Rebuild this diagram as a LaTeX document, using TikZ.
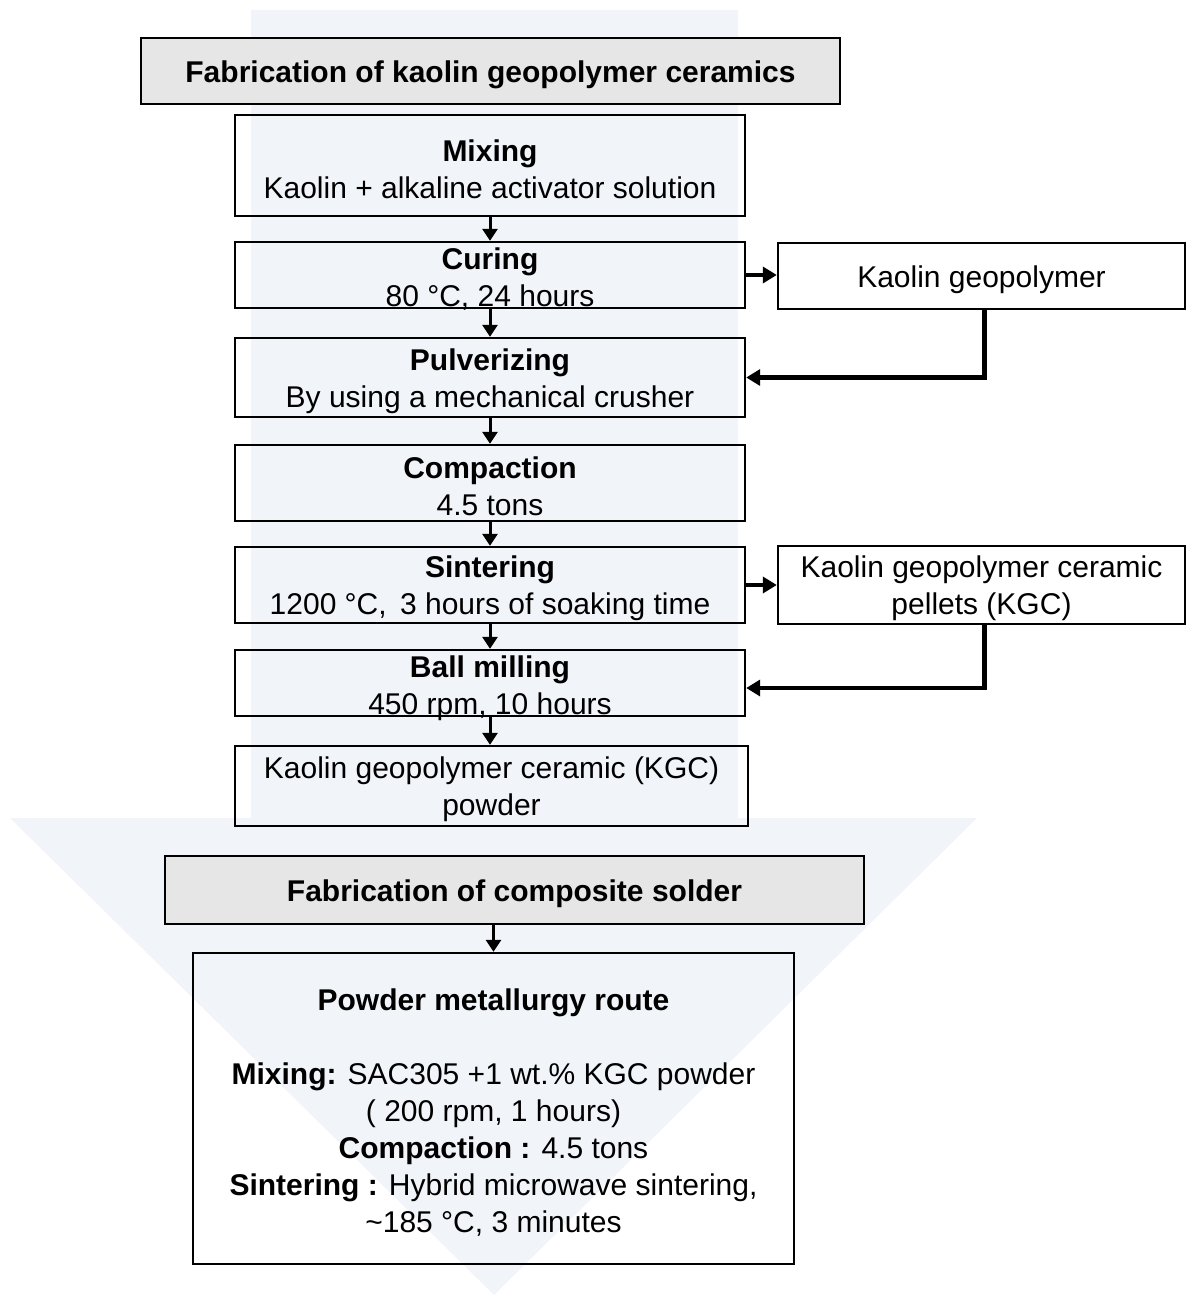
\documentclass[tikz,border=0pt]{standalone}
\usepackage{fontspec}
\setmainfont{Liberation Sans}
\usetikzlibrary{arrows.meta}
\definecolor{bgblue}{HTML}{F1F4F9}
\definecolor{hdrgray}{HTML}{E6E6E6}
\newcommand\tstrut{\rule{0pt}{29pt}}
\newcommand\sstrut{\rule{0pt}{26pt}}
\begin{document}
\begin{tikzpicture}[x=1pt,y=-1pt,
  box/.style={draw=black, line width=2.4pt, align=center, inner sep=0pt,
    font=\fontsize{30}{37}\selectfont},
  hdr/.style={box, fill=hdrgray, font=\fontsize{30}{37}\selectfont\bfseries},
  link/.style={line width=3pt, -{Triangle[length=12pt,width=15pt]}},
  side/.style={line width=4.5pt, -{Triangle[length=14pt,width=16pt]}}]
\useasboundingbox (0,0) rectangle (1186,1295);
% background arrow
\fill[bgblue] (251,10) -- (738,10) -- (738,818) -- (977,818) -- (494,1295)
  -- (10,818) -- (251,818) -- cycle;
% headers
\node[hdr, minimum width=699pt, minimum height=66pt] (t1) at (490.5,71)
  {\tstrut Fabrication of kaolin geopolymer ceramics};
\node[hdr, minimum width=699pt, minimum height=68pt] (t2) at (514.5,890)
  {\tstrut Fabrication of composite solder};
% process steps
\node[box, minimum width=510pt, minimum height=101pt] (mix) at (490,165.5)
  {\tstrut\textbf{Mixing}\\Kaolin + alkaline activator solution};
\node[box, minimum width=510pt, minimum height=66pt, text depth=0pt] (cur) at (490,275)
  {\sstrut\textbf{Curing}\\80 °C, 24 hours};
\node[box, minimum width=510pt, minimum height=79pt] (pul) at (490,377.5)
  {\tstrut\textbf{Pulverizing}\\By using a mechanical crusher};
\node[box, minimum width=510pt, minimum height=76pt] (com) at (490,483)
  {\tstrut\textbf{Compaction}\\4.5 tons};
\node[box, minimum width=510pt, minimum height=76pt] (sin) at (490,585)
  {\tstrut\textbf{Sintering}\\1200 °C,\, 3 hours of soaking time};
\node[box, minimum width=510pt, minimum height=66pt, text depth=0pt] (bal) at (490,683)
  {\sstrut\textbf{Ball milling}\\450 rpm, 10 hours};
\node[box, minimum width=513pt, minimum height=80pt] (pow) at (491.5,786)
  {\tstrut Kaolin geopolymer ceramic (KGC)\\powder};
% side products
\node[box, minimum width=407pt, minimum height=66pt] (kg) at (981.5,276)
  {\tstrut Kaolin geopolymer};
\node[box, minimum width=407pt, minimum height=78pt] (kgc) at (981.5,585)
  {\tstrut Kaolin geopolymer ceramic\\pellets (KGC)};
% bottom box
\node[box, minimum width=601pt, minimum height=311pt] (pm) at (493.5,1108.5)
  {\tstrut\textbf{Powder metallurgy route}\\[37pt]
   \textbf{Mixing:} SAC305 +1 wt.\% KGC powder\\
   ( 200 rpm, 1 hours)\\
   \textbf{Compaction :} 4.5 tons\\
   \textbf{Sintering :} Hybrid microwave sintering,\\
   \textasciitilde185 °C, 3 minutes};
% vertical connectors
\draw[link] (mix.south) -- (cur.north);
\draw[link] (cur.south) -- (pul.north);
\draw[link] (pul.south) -- (com.north);
\draw[link] (com.south) -- (sin.north);
\draw[link] (sin.south) -- (bal.north);
\draw[link] (bal.south) -- (bal.south |- pow.north);
\draw[link] (t2.south -| pm.north) -- (pm.north);
% side connectors
\draw[side] (cur.east) -- (cur.east -| kg.west);
\draw[side] ([xshift=3pt]kg.south) |- (pul.east);
\draw[side] (sin.east) -- (sin.east -| kgc.west);
\draw[side] ([xshift=3pt]kgc.south) |- ([yshift=-5pt]bal.east);
\end{tikzpicture}
\end{document}
